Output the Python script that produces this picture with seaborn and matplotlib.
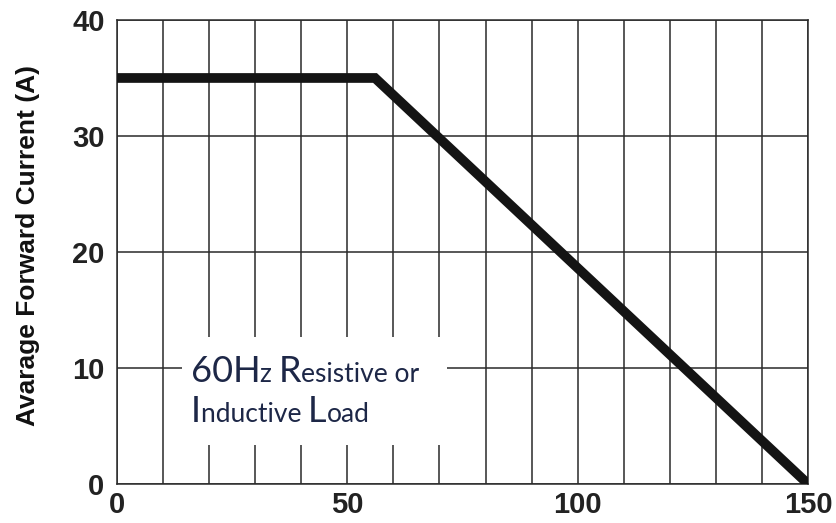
import matplotlib
matplotlib.use("Agg")
import matplotlib.pyplot as plt
import seaborn as sns
import pandas as pd
from matplotlib.offsetbox import TextArea, HPacker, VPacker, AnchoredOffsetbox
from matplotlib.patches import Rectangle

# data
temp = [0, 56, 150]
current = [35, 35, 0]
x_ticks = [0, 50, 100, 150]
y_ticks = [0, 10, 20, 30, 40]
x_grid = list(range(0, 151, 10))
y_grid = [0, 10, 20, 30, 40]
ylabel = "Avarage Forward Current (A)"
note_line1 = [("60H", "big"), ("z ", "small"), ("R", "big"), ("esistive or", "small")]
note_line2 = [("I", "big"), ("nductive ", "small"), ("L", "big"), ("oad", "small")]

sns.set_theme(style="white")
plt.rcParams['font.family'] = ['Liberation Sans', 'DejaVu Sans']

fig = plt.figure(figsize=(8.36, 5.23), dpi=100)
ax = fig.add_axes([0.14, 0.0746, 0.8265, 0.8872])

df = pd.DataFrame({"temp": temp, "current": current})
sns.lineplot(data=df, x="temp", y="current", ax=ax, color="#141414",
             linewidth=7, solid_capstyle="butt", solid_joinstyle="miter", zorder=5)

ax.set_xlim(0, 150)
ax.set_ylim(0, 40)
for gx in x_grid:
    ax.axvline(gx, color="#2a2a2a", linewidth=1.1, zorder=1)
for gy in y_grid:
    ax.axhline(gy, color="#2a2a2a", linewidth=1.1, zorder=1)

# white label box
ax.add_patch(Rectangle((14.1, 3.4), 57.5, 9.3, facecolor="white", edgecolor="none", zorder=3))

sizes = {"big": 26, "small": 19}
navy = "#1d2747"
def row(pieces):
    return HPacker(children=[TextArea(t, textprops=dict(fontsize=sizes[s], color=navy,
                                                         family=['Lato', 'DejaVu Sans'], fontweight='normal'))
                             for t, s in pieces], align="baseline", pad=0, sep=0)
box = VPacker(children=[row(note_line1), row(note_line2)], align="left", pad=0, sep=5)
anch = AnchoredOffsetbox(loc="center left", child=box, pad=0, frameon=False,
                         bbox_to_anchor=(16, 8.0), bbox_transform=ax.transData, borderpad=0)
anch.set_zorder(6)
ax.add_artist(anch)

for sp in ax.spines.values():
    sp.set_visible(True)
    sp.set_color("#2a2a2a")
    sp.set_linewidth(1.1)

ax.set_xticks(x_ticks)
ax.set_yticks(y_ticks)
tick_font = dict(family=['Liberation Sans', 'DejaVu Sans'], weight='bold', size=21)
ax.set_xticklabels([str(v) for v in x_ticks], fontdict=tick_font, color="#222222")
ax.set_yticklabels([str(v) for v in y_ticks], fontdict=tick_font, color="#222222")
ax.tick_params(axis="both", length=0)
ax.tick_params(axis="x", pad=5)
ax.tick_params(axis="y", pad=9)
ax.set_xlabel("")
ax.set_ylabel(ylabel, fontsize=19, fontweight="bold", color="#111111")
ax.yaxis.set_label_coords(-0.112, 0.513)

fig.savefig("out.png", dpi=100)
